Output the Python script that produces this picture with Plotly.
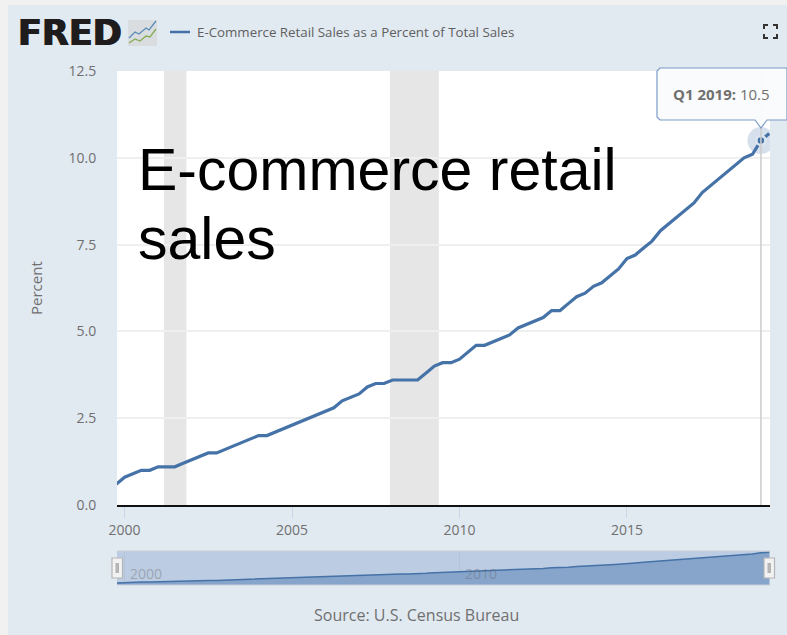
import plotly.graph_objects as go

# E-commerce share of total retail sales, quarterly, Q4 1999 to Q2 2019
start_year = 1999
start_quarter = 4
share_percent = [
    0.6,
    0.8, 0.9, 1.0, 1.0,
    1.1, 1.1, 1.1, 1.2,
    1.3, 1.4, 1.5, 1.5,
    1.6, 1.7, 1.8, 1.9,
    2.0, 2.0, 2.1, 2.2,
    2.3, 2.4, 2.5, 2.6,
    2.7, 2.8, 3.0, 3.1,
    3.2, 3.4, 3.5, 3.5,
    3.6, 3.6, 3.6, 3.6,
    3.8, 4.0, 4.1, 4.1,
    4.2, 4.4, 4.6, 4.6,
    4.7, 4.8, 4.9, 5.1,
    5.2, 5.3, 5.4, 5.6,
    5.6, 5.8, 6.0, 6.1,
    6.3, 6.4, 6.6, 6.8,
    7.1, 7.2, 7.4, 7.6,
    7.9, 8.1, 8.3, 8.5,
    8.7, 9.0, 9.2, 9.4,
    9.6, 9.8, 10.0, 10.1,
    10.5, 10.7,
]
recessions = [("2001-03-05", "2001-11-05"), ("2007-12-05", "2009-05-20")]
y_ticks = [0, 2.5, 5, 7.5, 10, 12.5]
navigator_labels = ["2000", "2010"]
series_name = "E-Commerce Retail Sales as a Percent of Total Sales"
highlight_label = "Q1 2019"
highlight_value = 10.5

W, H = 787, 635
BLUE = "#4572A7"
PANEL = "#E1E9F1"
TEXT = "#707070"
SANS = "Open Sans"


def px(x):
    return x / W


def py(y):
    return 1 - y / H


def quarter_dates(count):
    dates = []
    year, quarter = start_year, start_quarter
    for _ in range(count):
        dates.append(f"{year}-{3 * quarter - 2:02d}-01")
        quarter += 1
        if quarter == 5:
            year, quarter = year + 1, 1
    return dates


def paper_path(points, close=False):
    """SVG path through pixel points, expressed in paper coordinates."""
    body = " L".join(f"{px(x):.5f},{py(y):.5f}" for x, y in points)
    return "M" + body + (" Z" if close else "")


def path_shape(points, close=False, **style):
    return dict(type="path", xref="paper", yref="paper", path=paper_path(points, close), **style)


dates = quarter_dates(len(share_percent))
highlight_date = f"{highlight_label[-4:]}-{3 * int(highlight_label[1]) - 2:02d}-01"
x_range = ["1999-10-10", "2019-04-10"]

fig = go.Figure()

# Navigator series underneath the main chart
fig.add_trace(go.Scatter(
    x=dates, y=share_percent, xaxis="x2", yaxis="y2", mode="lines",
    line=dict(color=BLUE, width=1.5), fill="tozeroy",
    fillcolor="#87A4CB", showlegend=False, hoverinfo="skip",
))

# Main series
fig.add_trace(go.Scatter(
    x=dates, y=share_percent, mode="lines", name=series_name,
    line=dict(color=BLUE, width=3.2), showlegend=False,
))

# Hovered point: soft halo, then the ringed marker
fig.add_trace(go.Scatter(
    x=[highlight_date], y=[highlight_value], mode="markers", showlegend=False,
    marker=dict(size=27, color="rgba(69,114,167,0.22)", line=dict(width=0)),
    hoverinfo="skip",
))
fig.add_trace(go.Scatter(
    x=[highlight_date], y=[highlight_value], mode="markers", showlegend=False,
    marker=dict(size=9, color=BLUE, line=dict(color="#DCE5EF", width=2.5)),
    hoverinfo="skip",
))

shapes = [
    # page margin around the chart panel
    dict(type="rect", xref="paper", yref="paper", x0=0, x1=1, y0=py(5), y1=1,
         fillcolor="#F1F1F1", line_width=0, layer="below"),
    dict(type="rect", xref="paper", yref="paper", x0=0, x1=px(8), y0=0, y1=1,
         fillcolor="#F1F1F1", line_width=0, layer="below"),
    # navigator band
    dict(type="rect", xref="paper", yref="paper", x0=px(117), x1=px(770), y0=py(585), y1=py(551),
         fillcolor="#BCCCE2", line_width=0, layer="below"),
    dict(type="line", xref="paper", yref="paper", x0=px(117), x1=px(770), y0=py(551), y1=py(551),
         line=dict(color="#C9CFD8", width=1)),
    dict(type="line", xref="paper", yref="paper", x0=px(117), x1=px(770), y0=py(585), y1=py(585),
         line=dict(color="#C9CFD8", width=1)),
    # legend key
    dict(type="line", xref="paper", yref="paper", x0=px(170), x1=px(190), y0=py(32), y1=py(32),
         line=dict(color=BLUE, width=2.5)),
]
for begin, end in recessions:
    shapes.append(dict(type="rect", xref="x", yref="paper", x0=begin, x1=end,
                       y0=py(505), y1=py(71), fillcolor="#E6E6E6", line_width=0, layer="below"))

# Crosshair at the hovered quarter
shapes.append(dict(type="line", xref="x", yref="paper", x0=highlight_date, x1=highlight_date,
                   y0=py(505), y1=py(71), line=dict(color="#CCCCCC", width=1.5)))

# Tooltip body with its pointer
shapes.append(path_shape(
    [(660, 68), (787, 68), (787, 120), (767, 120), (761, 128), (755, 120),
     (660, 120), (657, 117), (657, 71)], close=True,
    fillcolor="rgba(250,251,252,0.97)", line=dict(color="#7C9CC6", width=1.2),
))

# Navigator drag handles
for left in (112, 764):
    shapes.append(dict(type="rect", xref="paper", yref="paper", x0=px(left), x1=px(left + 10.5),
                       y0=py(578), y1=py(558), fillcolor="#F2F2F2",
                       line=dict(color="#B5B5B5", width=1.2)))
    shapes.append(dict(type="rect", xref="paper", yref="paper", x0=px(left + 3.5), x1=px(left + 7),
                       y0=py(573), y1=py(563), fillcolor="#B5B5B5", line_width=0))

# Full-screen button corners
for cx, cy, sx, sy in [(764, 25, 1, 1), (777, 25, -1, 1), (764, 38, 1, -1), (777, 38, -1, -1)]:
    shapes.append(path_shape([(cx + 4 * sx, cy), (cx, cy), (cx, cy + 4 * sy)],
                             line=dict(color="#333333", width=2)))

# Small line-chart badge beside the wordmark
shapes.append(dict(type="rect", xref="paper", yref="paper", x0=px(128), x1=px(157),
                   y0=py(46), y1=py(20), fillcolor="#D9DDDF", line_width=0))
shapes.append(path_shape([(129, 38), (135, 32), (139, 34), (146, 28), (149, 30), (156, 21)],
                         line=dict(color="#5B8DB8", width=1.3)))
shapes.append(path_shape([(129, 43), (135, 39), (140, 41), (146, 36), (150, 37), (156, 29)],
                         line=dict(color="#86AD55", width=1.3)))

annotations = [
    dict(text="FRED", xref="paper", yref="paper", x=px(16), y=py(33), xanchor="left", yanchor="middle",
         showarrow=False,
         font=dict(family="DejaVu Sans", size=35, color="#1F1C1D", weight="bold",
                   shadow="0.7px 0 #1F1C1D, -0.7px 0 #1F1C1D")),
    dict(text=series_name, xref="paper", yref="paper", x=px(195), y=py(32), xanchor="left",
         yanchor="middle", showarrow=False, font=dict(family=SANS, size=13.3, color="#5F5F5F")),
    dict(text="E-commerce retail", xref="paper", yref="paper", x=px(136), y=py(170), xanchor="left",
         yanchor="middle", showarrow=False, font=dict(family="Liberation Sans", size=59, color="#000000")),
    dict(text="sales", xref="paper", yref="paper", x=px(136), y=py(239), xanchor="left",
         yanchor="middle", showarrow=False, font=dict(family="Liberation Sans", size=59, color="#000000")),
    dict(text=f"<b>{highlight_label}:</b> {highlight_value}", xref="paper", yref="paper",
         x=px(671), y=py(94), xanchor="left", yanchor="middle", showarrow=False,
         font=dict(family=SANS, size=15, color=TEXT)),
    dict(text="Percent", xref="paper", yref="paper", x=px(36), y=py(288), textangle=-90,
         xanchor="center", yanchor="middle", showarrow=False,
         font=dict(family=SANS, size=15, color=TEXT)),
    dict(text="Source: U.S. Census Bureau", xref="paper", yref="paper", x=px(416), y=py(615),
         xanchor="center", yanchor="middle", showarrow=False,
         font=dict(family=SANS, size=16, color=TEXT)),
]
for label in navigator_labels:
    annotations.append(dict(text=label, xref="x2", yref="paper", x=f"{label}-01-01", xshift=3,
                            y=py(573), xanchor="left", yanchor="middle", showarrow=False,
                            font=dict(family=SANS, size=14, color="rgba(102,102,102,0.4)")))

fig.update_layout(
    width=W, height=H, margin=dict(l=0, r=0, t=0, b=0, autoexpand=False),
    paper_bgcolor=PANEL, plot_bgcolor="#FFFFFF",
    showlegend=False,
    xaxis=dict(domain=[px(117), px(770)], range=x_range, type="date", tick0="2000-01-01", dtick="M60",
               tickformat="%Y", showgrid=False, showline=True, linecolor="#111111", linewidth=2,
               ticks="outside", ticklen=11, tickcolor="#CCD6EB", tickwidth=1, zeroline=False,
               tickfont=dict(family=SANS, size=14, color=TEXT)),
    yaxis=dict(domain=[py(505), py(71)], range=[0, 12.5], tickvals=y_ticks, tickformat=".1f",
               showgrid=True, gridcolor="#EFEFEF", gridwidth=2, zeroline=False,
               ticks="outside", ticklen=17, tickcolor="rgba(0,0,0,0)",
               tickfont=dict(family=SANS, size=14, color=TEXT)),
    xaxis2=dict(domain=[px(117), px(770)], range=x_range, type="date", anchor="y2", showgrid=True,
                gridcolor="#B4C4DB", tick0="2000-01-01", dtick="M120", showticklabels=False,
                ticks="", zeroline=False),
    yaxis2=dict(domain=[py(585), py(551)], range=[0, 11.1], showgrid=False, showticklabels=False,
                ticks="", zeroline=False, anchor="x2", showline=False),
    shapes=shapes, annotations=annotations,
)

fig.write_html("out.html")
